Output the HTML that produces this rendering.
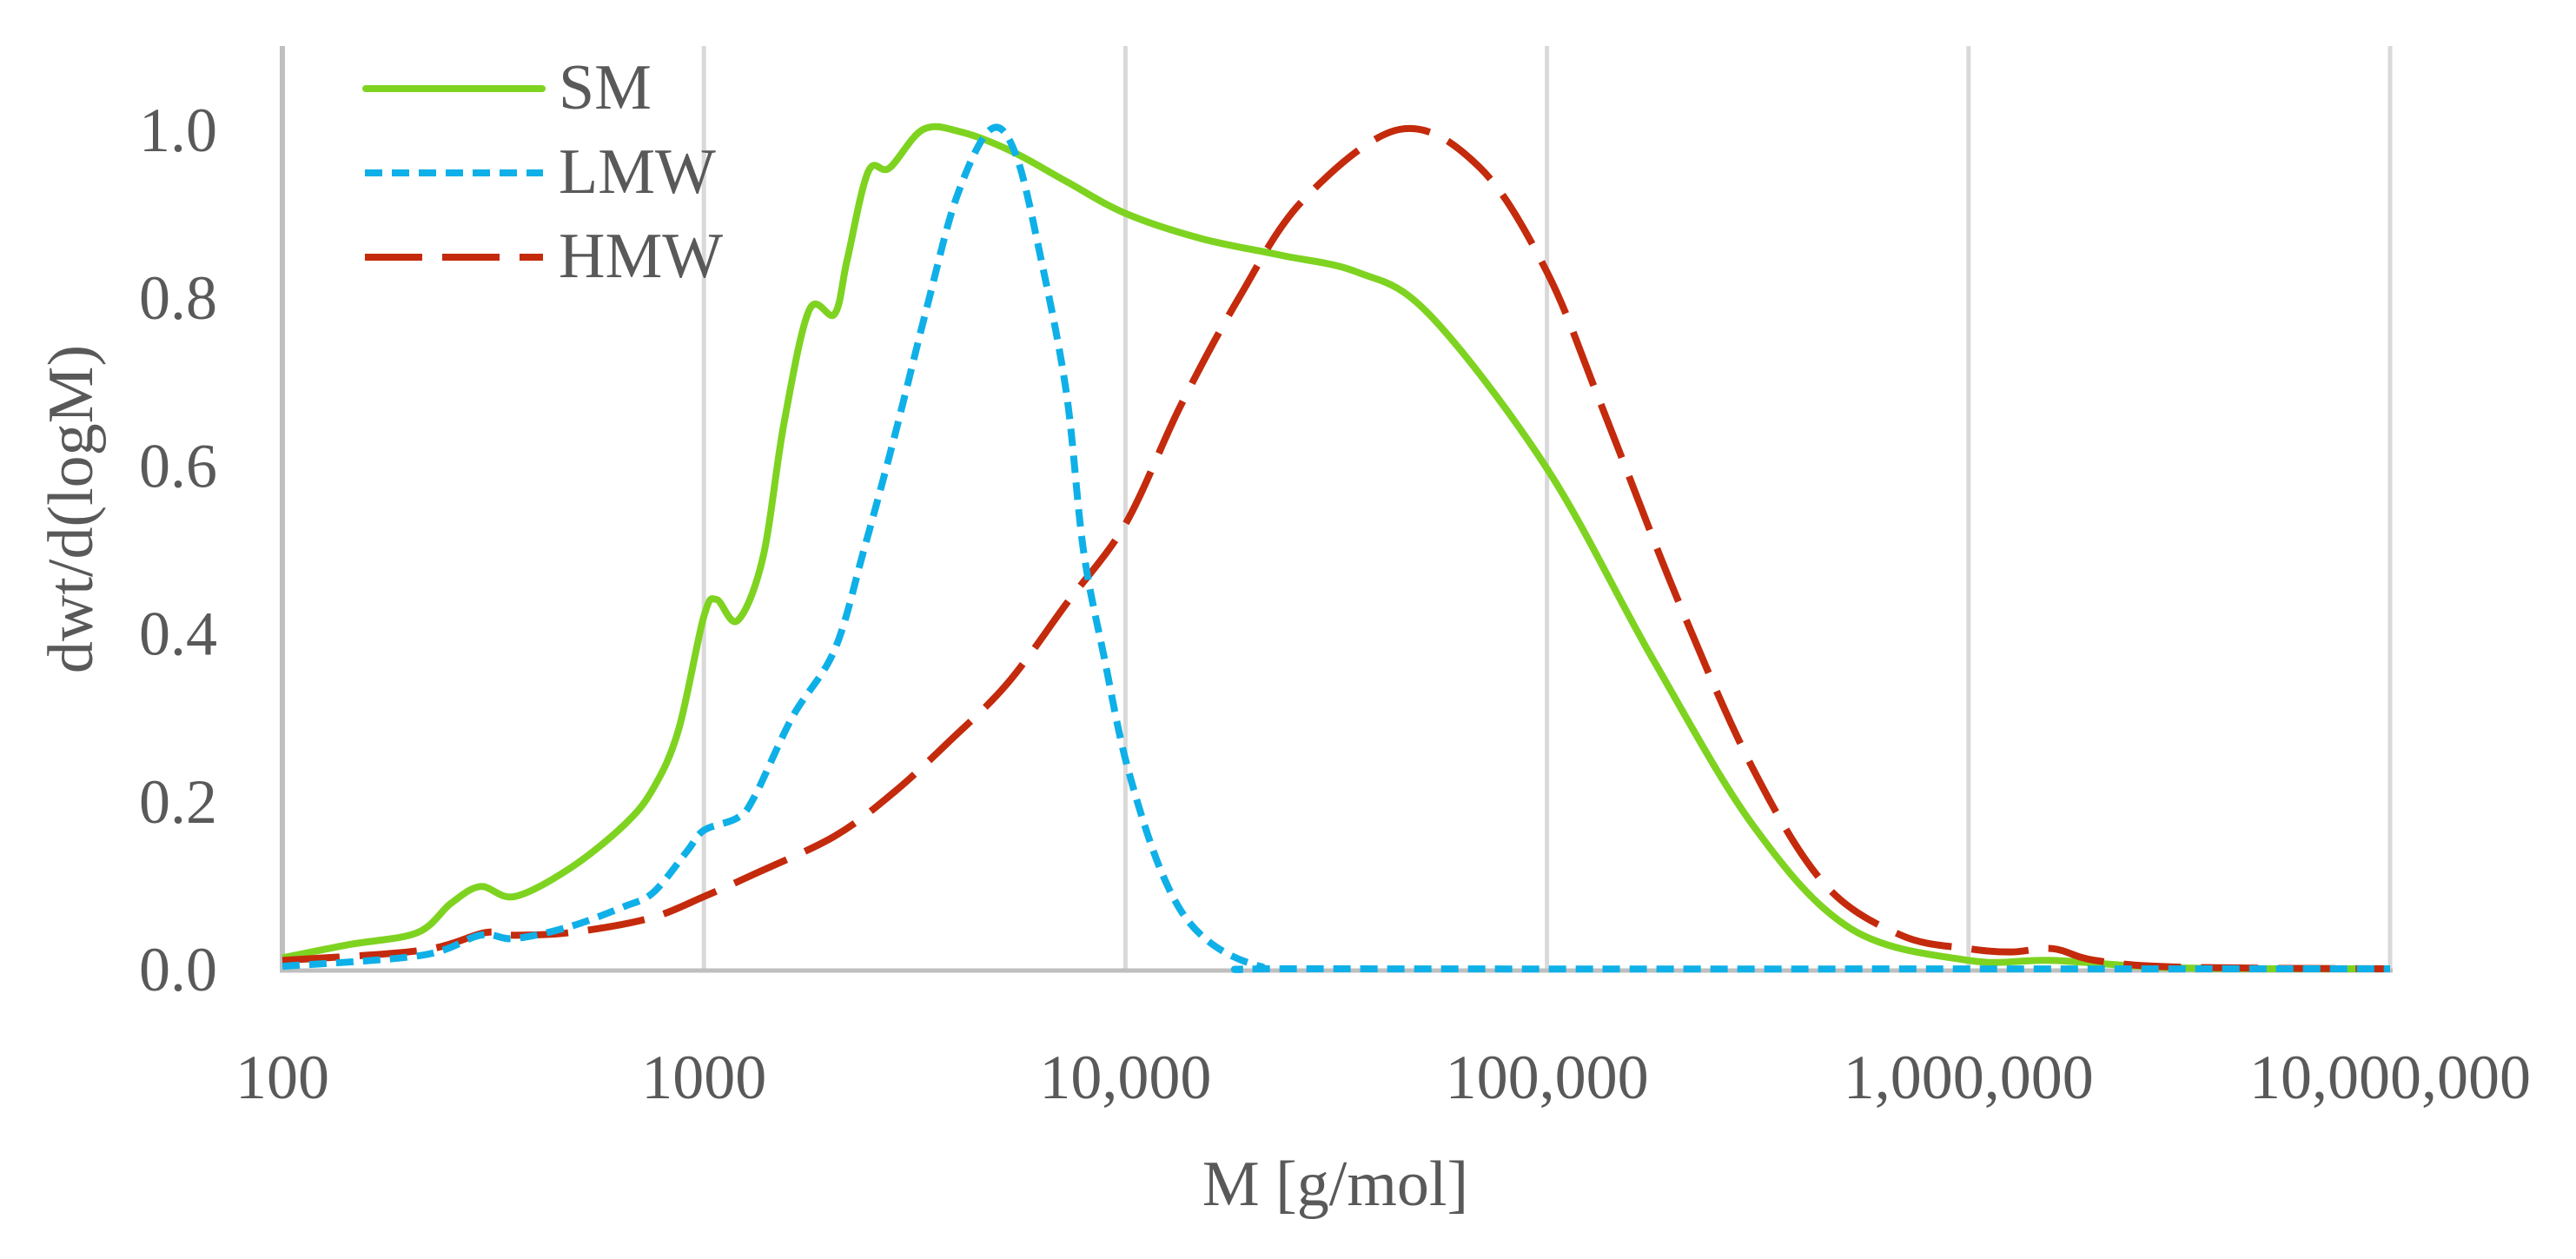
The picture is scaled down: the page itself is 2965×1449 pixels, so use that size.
<!DOCTYPE html>
<html><head><meta charset="utf-8"><style>
html,body{margin:0;padding:0;background:#fff;}
svg{display:block;}
text{font-family:"Liberation Serif",serif;fill:#595959;}
</style></head><body>
<svg id="chart" width="2965" height="1449" viewBox="0 0 2965 1449" xmlns="http://www.w3.org/2000/svg">
<g id="grid"></g>
<g id="axes"></g>
<g id="series"></g>
<g id="legend">
  <line x1="421" y1="102" x2="624" y2="102" stroke="#7ED321" stroke-width="8" stroke-linecap="round"/>
  <text x="643" y="125" font-size="74">SM</text>
  <line x1="420" y1="199" x2="625" y2="199" stroke="#0FB0E8" stroke-width="8" stroke-dasharray="20,11"/>
  <text x="643" y="222" font-size="74">LMW</text>
  <line x1="420" y1="296" x2="625" y2="296" stroke="#C42A0C" stroke-width="8" stroke-dasharray="66,23"/>
  <text x="643" y="319" font-size="74">HMW</text>
</g>
<text x="1537" y="1387" font-size="74" text-anchor="middle">M [g/mol]</text>
<text transform="translate(106,586) rotate(-90)" font-size="74" text-anchor="middle">dwt/d(logM)</text>
</svg>
<script>
const xTickLabels = ["100","1000","10,000","100,000","1,000,000","10,000,000"];
const xTickLogs = [2,3,4,5,6,7];
const yTicks = [0,0.2,0.4,0.6,0.8,1.0];
const yTickLabels = ["0.0","0.2","0.4","0.6","0.8","1.0"];
const smLogM = [2.0,2.16,2.32,2.40,2.47,2.55,2.68,2.81,2.88,2.94,3.0,3.03,3.08,3.14,3.19,3.25,3.31,3.34,3.39,3.44,3.52,3.61,3.73,3.86,4.0,4.18,4.37,4.55,4.72,5.0,5.25,5.49,5.72,6.0,6.2,6.5,7.0];
const smVal = [0.013,0.029,0.043,0.078,0.098,0.086,0.119,0.171,0.215,0.285,0.42,0.44,0.415,0.49,0.65,0.785,0.78,0.845,0.95,0.954,1.0,0.997,0.974,0.938,0.90,0.87,0.85,0.83,0.78,0.596,0.37,0.17,0.048,0.01,0.01,0.001,0];
const lmwLogM = [2.0,2.33,2.47,2.55,2.68,2.81,2.88,2.96,3.0,3.08,3.12,3.21,3.31,3.38,3.45,3.53,3.60,3.68,3.74,3.80,3.86,3.90,3.95,4.005,4.09,4.18,4.32,4.5,7.0];
const lmwVal = [0.003,0.016,0.04,0.036,0.05,0.074,0.091,0.14,0.165,0.18,0.205,0.30,0.38,0.50,0.63,0.79,0.92,1.0,0.97,0.845,0.686,0.50,0.37,0.24,0.11,0.04,0.003,0,0];
const hmwLogM = [2.0,2.33,2.48,2.54,2.68,2.87,3.0,3.12,3.31,3.45,3.58,3.72,3.86,4.0,4.13,4.27,4.42,4.65,4.84,5.0,5.13,5.31,5.49,5.66,5.84,6.0,6.1,6.2,6.3,6.5,7.0];
const hmwVal = [0.01,0.022,0.043,0.04,0.043,0.06,0.086,0.113,0.158,0.21,0.27,0.34,0.435,0.53,0.67,0.80,0.915,1.0,0.955,0.83,0.67,0.44,0.237,0.10,0.04,0.024,0.02,0.024,0.01,0.002,0];

const X0=325, XD=485.2, Y0=1115, YU=966;
function xs(l){return X0+(l-2)*XD;}
function ys(v){return Y0-v*YU;}
const NS="http://www.w3.org/2000/svg";
function mk(tag,parent,attrs){const e=document.createElementNS(NS,tag);for(const k in attrs)e.setAttribute(k,attrs[k]);parent.appendChild(e);return e;}
const grid=document.getElementById('grid'), axes=document.getElementById('axes'), series=document.getElementById('series');
xTickLogs.forEach((l,i)=>{
  if(i>0){const g=mk('line',grid,{x1:xs(l),x2:xs(l),y1:53,y2:Y0,stroke:'#D9D9D9','stroke-width':5});
  
  }
  const t=mk('text',axes,{x:xs(l),y:1264,'font-size':72,'text-anchor':'middle'});
  t.textContent=xTickLabels[i];
  
  
});
yTicks.forEach((v,i)=>{
  const t=mk('text',axes,{x:250,y:ys(v)+25,'font-size':72,'text-anchor':'end'});
  t.textContent=yTickLabels[i];
  
  
});
const ya=mk('line',axes,{x1:X0,x2:X0,y1:53,y2:Y0+3,stroke:'#BFBFBF','stroke-width':6});


const xa=mk('line',axes,{x1:X0-3,x2:xs(7)+3,y1:Y0+2,y2:Y0+2,stroke:'#BFBFBF','stroke-width':5});


function pathD(ls,vs){
  const p=ls.map((l,i)=>[xs(l),ys(vs[i])]);
  let d='M'+p[0][0]+','+p[0][1];
  for(let i=0;i<p.length-1;i++){
    const a=p[Math.max(0,i-1)],b=p[i],c=p[i+1],e=p[Math.min(p.length-1,i+2)];
    const c1=[b[0]+(c[0]-a[0])/6,b[1]+(c[1]-a[1])/6],c2=[c[0]-(e[0]-b[0])/6,c[1]-(e[1]-b[1])/6];
    d+=' C'+c1.join(',')+' '+c2.join(',')+' '+c.join(',');
  }
  return d;
}
const sm=mk('path',series,{d:pathD(smLogM,smVal),fill:'none',stroke:'#7ED321','stroke-width':8});


const hm=mk('path',series,{d:pathD(hmwLogM,hmwVal),fill:'none',stroke:'#C42A0C','stroke-width':8,'stroke-dasharray':'66,23'});


const lm=mk('path',series,{d:pathD(lmwLogM,lmwVal),fill:'none',stroke:'#0FB0E8','stroke-width':8,'stroke-dasharray':'20,11'});


</script>
</body></html>
